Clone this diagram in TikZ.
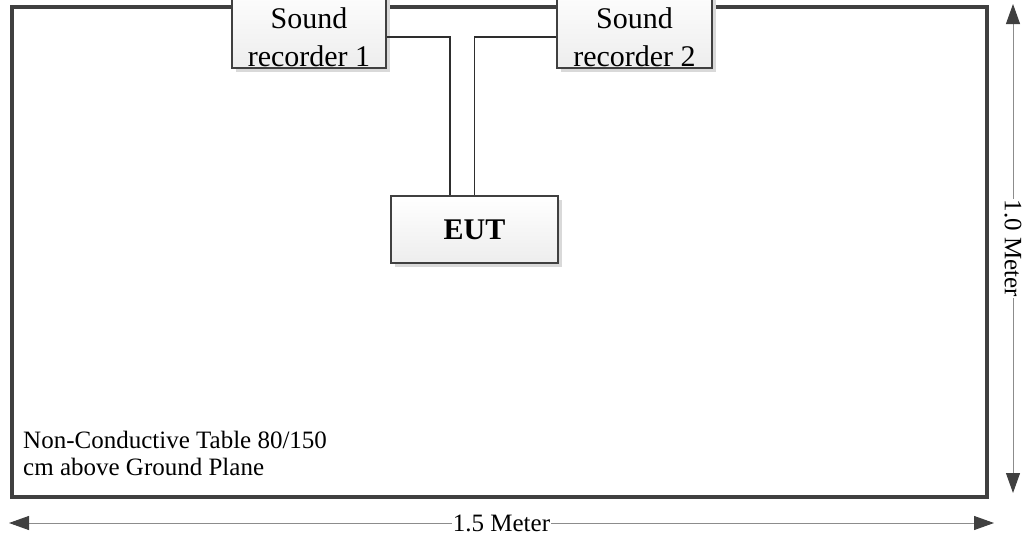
\documentclass[tikz,border=0pt]{standalone}
\usepackage{fontspec}
\setmainfont{Liberation Serif}
\usetikzlibrary{arrows.meta,shadows}
\definecolor{edge}{HTML}{404040}
\definecolor{wire}{HTML}{2E2E2E}
\definecolor{dimline}{HTML}{8C8C8C}
\begin{document}
\begin{tikzpicture}[x=1pt,y=-1pt,
  tablebox/.style={draw=edge, line width=3.5pt, inner sep=0pt, anchor=north west},
  unitbox/.style={draw=edge, line width=2.4pt, inner sep=0pt,
    top color=white, bottom color=black!7,
    drop shadow={shadow xshift=4pt, shadow yshift=-4pt, fill=black!15, opacity=1}},
  boxtext/.style={font=\fontsize{30}{38}\selectfont, align=center, inner sep=0pt, anchor=base},
  plaintext/.style={font=\fontsize{25}{27}\selectfont, align=left, inner sep=0pt, anchor=base west},
  wireline/.style={draw=wire, line width=1.1pt},
  dimarrow/.style={draw=dimline, line width=1pt,
    {Triangle[length=20pt,width=14pt,color=edge]}-{Triangle[length=20pt,width=14pt,color=edge]}},
  dimlabel/.style={font=\fontsize{25}{27}\selectfont, fill=white, inner xsep=1pt, inner ysep=0pt}
]
\useasboundingbox (0,0) rectangle (1022,538);

% table
\node[tablebox, minimum width=975pt, minimum height=490pt] (table) at (10,5) {};
\node[plaintext] (tlabel) at (23,475) {Non-Conductive Table 80/150\\cm above Ground Plane};

% sound recorders
\node[unitbox, minimum width=154pt, minimum height=84pt] (rec1) at (309,26) {};
\node[boxtext] (rec1t) at (309,66) {Sound\\recorder 1};
\node[unitbox, minimum width=155pt, minimum height=84pt] (rec2) at (634.5,26) {};
\node[boxtext] (rec2t) at (634.5,66) {Sound\\recorder 2};

% EUT
\node[unitbox, minimum width=167pt, minimum height=67pt, font=\fontsize{30}{36}\selectfont\bfseries] (eut) at (474.5,229.5) {EUT};

% wiring
\coordinate (w1) at (386,37);
\coordinate (w2) at (557.5,37);
\draw[wireline] (rec1.east |- w1) -| ([xshift=-24.5pt]eut.north);
\draw[wireline] (rec2.west |- w2) -| (eut.north);

% dimensions
\coordinate (vtop) at (1013,4);
\coordinate (vbot) at (1013,493);
\draw[dimarrow] (vtop) -- node[dimlabel, rotate=-90] (vlab) {1.0 Meter} (vbot);
\coordinate (hl) at (9,523);
\coordinate (hr) at (994,523);
\draw[dimarrow] (hl) -- node[dimlabel] (hlab) {1.5 Meter} (hr);
\end{tikzpicture}
\end{document}
